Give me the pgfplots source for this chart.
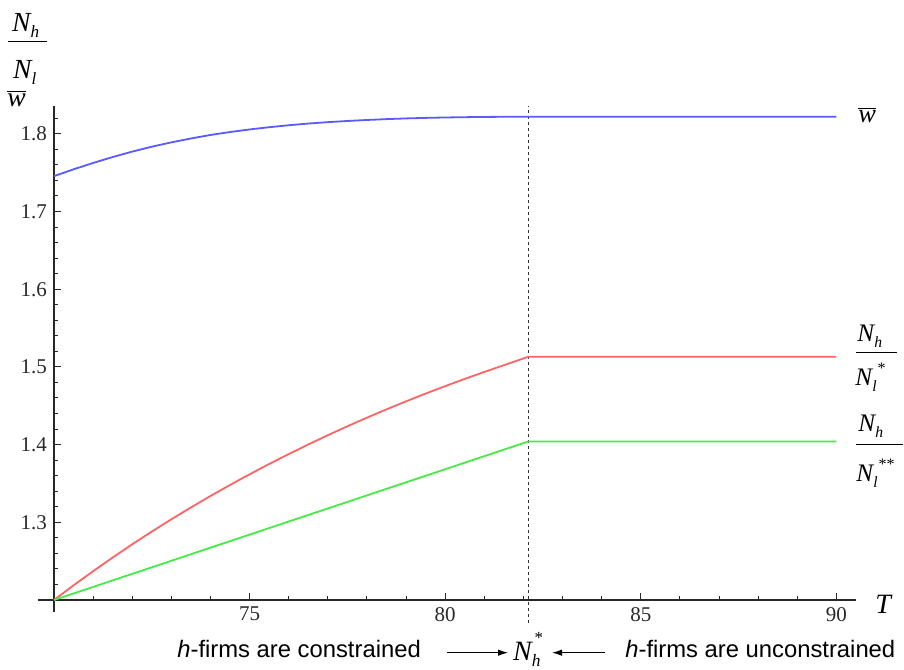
\documentclass[border=0pt]{standalone}
\usepackage{pgfplots}
\pgfplotsset{compat=1.18}
\usepackage{fontspec}
\setmainfont{Liberation Serif}
\newfontfamily\arial{Liberation Sans}
\usetikzlibrary{arrows.meta}
\definecolor{cblue}{RGB}{90,90,255}
\definecolor{cred}{RGB}{255,100,100}
\definecolor{cgreen}{RGB}{70,235,70}
\definecolor{axgray}{RGB}{40,40,40}
\newcommand{\Nsub}[1]{\textit{N}\kern-0.5pt\raisebox{-0.45ex}{\fontsize{0.62em}{1em}\selectfont\textit{#1}}}
\newcommand{\wbar}{$\overline{\mbox{\textit{w}}}$}
\begin{document}
\begin{tikzpicture}
\useasboundingbox (0,0) rectangle (452pt,334.5pt);
\begin{axis}[
  at={(27pt,34.5pt)}, anchor=south west,
  scale only axis, width=401pt, height=247pt,
  xmin=70, xmax=90.5, ymin=1.2, ymax=1.8358,
  axis lines=left,
  axis line style={-, axgray, line width=0.6pt},
  clip=false,
  xtick={75,80,85,90},
  ytick={1.3,1.4,1.5,1.6,1.7,1.8},
  minor xtick={71,72,73,74,76,77,78,79,81,82,83,84,86,87,88,89},
  minor ytick={1.22,1.24,1.26,1.28,1.32,1.34,1.36,1.38,1.42,1.44,1.46,1.48,1.52,1.54,1.56,1.58,1.62,1.64,1.66,1.68,1.72,1.74,1.76,1.78,1.82},
  tick align=inside,
  major tick length=3.3pt, minor tick length=2pt,
  tick style={axgray, line width=0.5pt},
  ticklabel style={font=\fontsize{10.5}{12}\selectfont, text=axgray},
  /pgf/number format/assume math mode=true,
  yticklabel style={/pgf/number format/fixed, /pgf/number format/precision=1, /pgf/number format/fixed zerofill},
]
\draw[axgray, line width=0.6pt] (axis cs:69.58,1.2) -- (axis cs:70,1.2);
\draw[axgray, line width=0.6pt] (axis cs:70,1.1845) -- (axis cs:70,1.2);
% dashed separator at N_h^*
\addplot[black!80, line width=0.5pt, dash pattern=on 1.5pt off 1.5pt] coordinates {(82.12,1.1704) (82.12,1.8358)};
% w bar
\addplot[cblue, line width=0.9pt] coordinates {
(70,1.7455)(70.5,1.7543)(71,1.7625)(71.5,1.7701)(72,1.7771)(72.5,1.7834)(73,1.7890)(73.5,1.7940)(74,1.7985)(74.5,1.8023)(75,1.8056)(75.5,1.8085)(76,1.8110)(76.5,1.8132)(77,1.8150)(77.5,1.8165)(78,1.8178)(78.5,1.8189)(79,1.8198)(79.5,1.8205)(80,1.8210)(80.5,1.8214)(81,1.8217)(81.5,1.8219)(82.12,1.8220)(90,1.8220)};
% Nh/Nl*
\addplot[cred, line width=0.9pt] coordinates {
(70,1.2)(70.5,1.2189)(71,1.2371)(71.5,1.2547)(72,1.2717)(72.5,1.2881)(73,1.3039)(73.5,1.3191)(74,1.3339)(74.5,1.3481)(75,1.3618)(75.5,1.3751)(76,1.3878)(76.5,1.4002)(77,1.4121)(77.5,1.4236)(78,1.4347)(78.5,1.4454)(79,1.4557)(79.5,1.4657)(80,1.4753)(80.5,1.4846)(81,1.4935)(81.5,1.5022)(82.12,1.5130)(90,1.5130)};
% Nh/Nl**
\addplot[cgreen, line width=0.9pt] coordinates {(70,1.2)(82.12,1.404)(90,1.404)};
\end{axis}
% top-left axis label
\node[anchor=base west, inner sep=0, font=\fontsize{13.8}{15}\selectfont] at (5.8pt,318.7pt) {\Nsub{h}};
\draw[line width=0.5pt] (4pt,313.6pt) -- (23.5pt,313.6pt);
\node[anchor=base west, inner sep=0, font=\fontsize{13.8}{15}\selectfont] at (6.3pt,295.3pt) {\Nsub{l}};
\node[anchor=base west, inner sep=0, font=\fontsize{13.8}{15}\selectfont] at (3.5pt,281pt) {\wbar};
% right labels
\node[anchor=base west, inner sep=0, font=\fontsize{13.2}{15}\selectfont] at (429pt,273pt) {\wbar};
\node[anchor=base west, inner sep=0, font=\fontsize{12.6}{14}\selectfont] at (428.5pt,163.6pt) {\Nsub{h}};
\draw[line width=0.5pt] (428pt,158.2pt) -- (448.5pt,158.2pt);
\node[anchor=base west, inner sep=0, font=\fontsize{12.6}{14}\selectfont] at (427.5pt,141.5pt) {\Nsub{l}\kern0.5pt\raisebox{1.1ex}{\fontsize{8}{9}\selectfont *}};
\node[anchor=base west, inner sep=0, font=\fontsize{12.6}{14}\selectfont] at (429pt,118.6pt) {\Nsub{h}};
\draw[line width=0.5pt] (428pt,112pt) -- (451.5pt,112pt);
\node[anchor=base west, inner sep=0, font=\fontsize{12.6}{14}\selectfont] at (428pt,93.6pt) {\Nsub{l}\kern0.5pt\raisebox{1.1ex}{\fontsize{8}{9}\selectfont **}};
% T
\node[anchor=base west, inner sep=0, font=\fontsize{14}{16}\selectfont] at (437.5pt,27.5pt) {\textit{T}};
% bottom annotation
\node[anchor=base west, inner sep=0, font=\arial\fontsize{11.9}{14}\selectfont] at (88.5pt,6pt) {\textit{h}-firms are constrained};
\node[anchor=base west, inner sep=0, font=\arial\fontsize{11.9}{14}\selectfont] at (312.5pt,6pt) {\textit{h}-firms are unconstrained};
\draw[line width=0.5pt, -{Latex[length=5pt,width=3.2pt]}] (223.5pt,8.15pt) -- (254pt,8.15pt);
\draw[line width=0.5pt, -{Latex[length=5pt,width=3.2pt]}] (302.5pt,8.15pt) -- (276pt,8.15pt);
\node[anchor=base west, inner sep=0, font=\fontsize{14}{16}\selectfont] at (256.3pt,4.2pt) {\Nsub{h}\kern-3pt\raisebox{1.3ex}{\fontsize{8.5}{9}\selectfont *}};
\end{tikzpicture}
\end{document}
